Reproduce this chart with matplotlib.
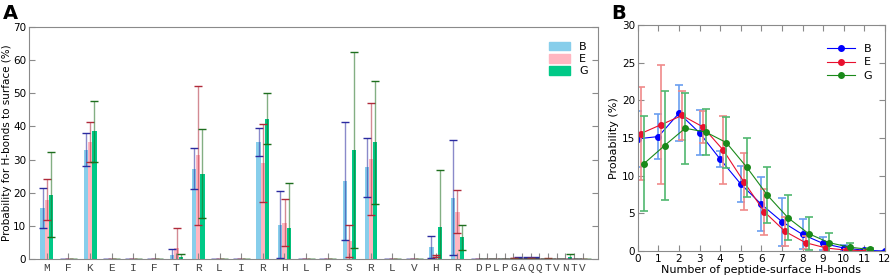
import numpy as np
import matplotlib
matplotlib.use("Agg")
import matplotlib.pyplot as plt
from matplotlib.patches import Patch

# panel A data: residues and H-bond probabilities (%)
residues = ['M', 'F', 'K', 'E', 'I', 'F', 'T', 'R', 'L', 'I', 'R', 'H', 'L', 'P', 'S', 'R', 'L', 'V', 'H', 'R',
            'D', 'P', 'L', 'P', 'G', 'A', 'Q', 'Q', 'T', 'V', 'N', 'T', 'V']
B_mean = [15.4, 0, 33.0, 0, 0, 0, 1.3, 27.2, 0, 0, 35.4, 10.3, 0, 0, 23.6, 27.7, 0, 0, 3.7, 18.5,
          0, 0, 0, 0, 0, 0.4, 0.5, 0.5, 0, 0, 0, 0, 0]
B_err = [5.9, 0, 4.9, 0, 0, 0, 1.7, 6.2, 0, 0, 4.2, 10.1, 0, 0, 17.8, 8.9, 0, 0, 3.3, 17.3,
         0, 0, 0, 0, 0, 0.2, 0.2, 0.2, 0, 0, 0, 0, 0]
E_mean = [17.9, 0, 35.3, 0, 0, 0, 3.4, 31.3, 0, 0, 28.9, 11.0, 0, 0, 5.5, 30.2, 0, 0, 0.8, 14.3,
          0, 0, 0, 0, 0.3, 0, 0.3, 0, 0.2, 0, 0, 0, 0]
E_err = [6.2, 0, 5.9, 0, 0, 0, 5.9, 20.9, 0, 0, 11.8, 7.1, 0, 0, 4.8, 16.8, 0, 0, 0.3, 6.4,
         0, 0, 0, 0, 0.1, 0, 0.1, 0, 0.1, 0, 0, 0, 0]
G_mean = [19.4, 0, 38.5, 0, 0, 0, 0.6, 25.8, 0, 0, 42.4, 9.3, 0, 0, 32.9, 35.2, 0, 0, 9.6, 6.6,
          0, 0, 0, 0, 0, 0, 0, 0, 0, 0, 0.6, 0, 0]
G_err = [12.8, 0, 9.1, 0, 0, 0, 0.9, 13.4, 0, 0, 7.8, 13.6, 0, 0, 29.5, 18.6, 0, 0, 17.3, 3.8,
         0, 0, 0, 0, 0, 0, 0, 0, 0, 0, 0.9, 0, 0]

# panel B data: distribution of number of peptide-surface H-bonds
nhb = [0, 1, 2, 3, 4, 5, 6, 7, 8, 9, 10, 11, 12]
pB = [14.9, 15.2, 18.3, 15.7, 12.2, 8.9, 6.2, 3.9, 2.2, 1.0, 0.4, 0.1, 0.0]
pB_err = [3.7, 3.0, 3.7, 3.0, 1.1, 2.4, 3.6, 3.2, 2.0, 0.9, 0.35, 0.1, 0.0]
pE = [15.6, 16.8, 18.0, 16.5, 13.4, 9.2, 5.2, 2.6, 1.1, 0.4, 0.1, 0.05]
pE_err = [6.2, 7.9, 3.3, 2.1, 4.5, 3.8, 3.1, 1.9, 0.9, 0.25, 0.1, 0.05]
pG = [11.6, 14.0, 16.3, 15.8, 14.4, 11.1, 7.4, 4.4, 2.3, 1.1, 0.5, 0.2]
pG_err = [6.3, 7.2, 4.7, 3.0, 3.4, 3.9, 3.7, 3.0, 2.2, 1.3, 0.6, 0.2]

fig = plt.figure(figsize=(8.92, 2.76), dpi=100)
axA = fig.add_axes([0.0325, 0.0616, 0.6375, 0.8404])
axB = fig.add_axes([0.715, 0.0906, 0.277, 0.8184])

spine_col = '#8a8a8a'

# ---- panel A ----
x = np.array(list(range(20)) + [20 + 0.4 * i for i in range(13)])
w = 0.2
bars = [(B_mean, B_err, '#87ceeb', '#2a2aa0', -0.19),
        (E_mean, E_err, '#ffb6c1', '#b02a3a', 0.01),
        (G_mean, G_err, '#00c987', '#1e6e1e', 0.21)]
for mean, err, fc, ec, off in bars:
    axA.bar(x + off, mean, width=w, color=fc, linewidth=0)
    eb = axA.errorbar(x + off, mean, yerr=err, fmt='none', ecolor=ec, elinewidth=1.0,
                      capsize=3, capthick=1.0)
    for lc in eb[2]:
        lc.set_alpha(0.55)

axA.set_xlim(-0.82, 25.5)
axA.set_ylim(0, 70)
axA.set_yticks(range(0, 71, 10))
axA.set_xticks(x)
axA.set_xticklabels(residues, family='Liberation Mono', fontsize=8, color='#444444')
axA.tick_params(axis='y', labelsize=7.5, direction='in', right=True, color=spine_col, length=4, pad=2)
axA.tick_params(axis='x', direction='in', color=spine_col, length=4, pad=3)
axA.set_ylabel('Probability for H-bonds to surface (%)', fontsize=7.5, labelpad=1)
for s in axA.spines.values():
    s.set_color(spine_col)
axA.legend(handles=[Patch(color='#87ceeb', label='B'), Patch(color='#ffb6c1', label='E'),
                    Patch(color='#00c987', label='G')],
           loc='upper right', frameon=False, fontsize=8, handlelength=1.9, handleheight=0.8,
           labelspacing=0.2, handletextpad=0.8, bbox_to_anchor=(1.0, 0.98))
fig.text(0.003, 0.985, 'A', fontsize=14, fontweight='bold', va='top')

# ---- panel B ----
nhb_arr = np.array(nhb)
series = [(nhb_arr[:len(pB)], pB, pB_err, '#0000ff', '#6a9ef0', 'B'),
          (nhb_arr[:len(pE)] + 0.15, pE, pE_err, '#e8102e', '#f08a8a', 'E'),
          (nhb_arr[:len(pG)] + 0.3, pG, pG_err, '#1a8a1a', '#50b870', 'G')]
for xs, ys, es, col, ecol, lab in series:
    axB.errorbar(xs, ys, yerr=es, fmt='none', ecolor=ecol, elinewidth=1.2, capsize=3, capthick=1.2)
    axB.plot(xs, ys, '-o', color=col, lw=0.8, ms=4, label=lab)

axB.set_xlim(0, 12)
axB.set_ylim(0, 30)
axB.set_xticks(range(0, 13))
axB.set_yticks(range(0, 31, 5))
axB.tick_params(labelsize=7.5, direction='in', top=True, right=True, color=spine_col, length=4, pad=2)
axB.set_xlabel('Number of peptide-surface H-bonds', fontsize=8, labelpad=1)
axB.set_ylabel('Probability (%)', fontsize=8, labelpad=2)
for s in axB.spines.values():
    s.set_color(spine_col)
axB.legend(loc='upper right', frameon=False, fontsize=8, handlelength=2.5,
           labelspacing=0.3, bbox_to_anchor=(0.99, 0.96))
fig.text(0.685, 0.985, 'B', fontsize=14, fontweight='bold', va='top')

fig.savefig('out.png', dpi=100)
